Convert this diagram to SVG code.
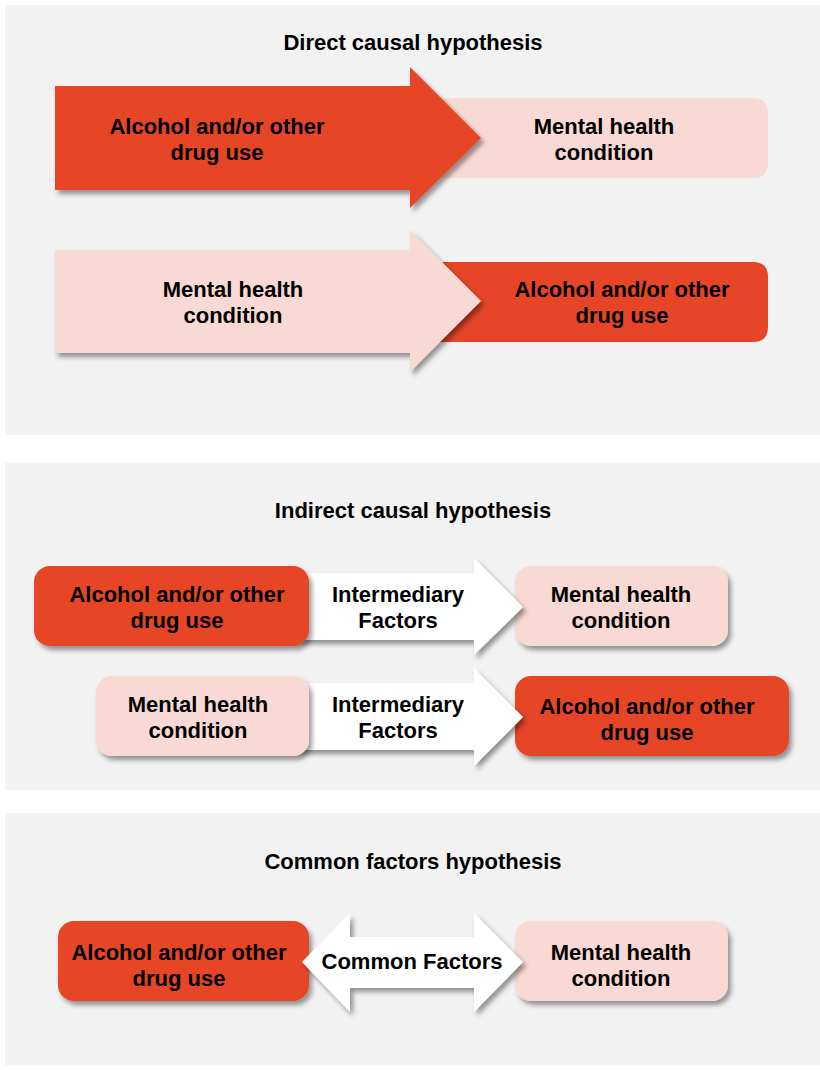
<svg xmlns="http://www.w3.org/2000/svg" width="820" height="1070" viewBox="0 0 820 1070">
<defs>
<filter id="sh" x="-10%" y="-20%" width="130%" height="150%">
<feDropShadow dx="3" dy="4" stdDeviation="2.5" flood-color="#000" flood-opacity="0.4"/>
</filter>
<style>
.panel{fill:#f2f2f2}
.red{fill:#e64527;filter:url(#sh)}
.pink{fill:#f9d9d3;filter:url(#sh)}
.white{fill:#ffffff;filter:url(#sh)}
.flat-pink{fill:#f9d9d3}
.flat-red{fill:#e64527}
text{font-family:"Liberation Sans",Arial,sans-serif;font-weight:bold;font-size:22px;fill:#000;text-anchor:middle}
</style>
</defs>
<rect width="820" height="1070" fill="#ffffff"/>
<rect class="panel" x="5" y="5" width="815" height="430"/>
<rect class="panel" x="5" y="463" width="815" height="327"/>
<rect class="panel" x="5" y="813" width="815" height="252"/>

<text x="413" y="50">Direct causal hypothesis</text>
<text x="413" y="518">Indirect causal hypothesis</text>
<text x="413" y="869">Common factors hypothesis</text>

<!-- Panel 1 row 1 -->
<g id="mh1">
<path class="flat-pink" d="M420,98 H753 Q768,98 768,113 V163 Q768,178 753,178 H420 Z"/>
<text x="604" y="134">Mental health</text>
<text x="604" y="160">condition</text>
</g>
<g id="aod1">
<path class="red" d="M55,86 H410 V67 L481,138 L410,208 V190 H55 Z"/>
<text x="217" y="134">Alcohol and/or other</text>
<text x="217" y="160">drug use</text>
</g>

<!-- Panel 1 row 2 -->
<g id="aod2">
<path class="flat-red" d="M420,262 H753 Q768,262 768,277 V327 Q768,342 753,342 H420 Z"/>
<text x="622" y="297">Alcohol and/or other</text>
<text x="622" y="323">drug use</text>
</g>
<g id="mh2">
<path class="pink" d="M55,250 H410 V230 L481,301 L410,372 V353 H55 Z"/>
<text x="233" y="297">Mental health</text>
<text x="233" y="323">condition</text>
</g>

<!-- Panel 2 right-hand nodes -->
<g id="mh3">
<rect class="pink" x="515" y="566" width="213" height="80" rx="16"/>
<text x="621" y="602">Mental health</text>
<text x="621" y="628">condition</text>
</g>
<g id="aod4">
<rect class="red" x="515" y="676" width="274" height="80" rx="16"/>
<text x="647" y="714">Alcohol and/or other</text>
<text x="647" y="740">drug use</text>
</g>

<g id="connectors">
<g id="inter1">
<path class="white" d="M295,573 H474 V558 L523,607 L474,655 V640 H295 Z"/>
<text x="398" y="602">Intermediary</text>
<text x="398" y="628">Factors</text>
</g>
<g id="inter2">
<path class="white" d="M295,683 H474 V668 L523,717 L474,766 V750 H295 Z"/>
<text x="398" y="712">Intermediary</text>
<text x="398" y="738">Factors</text>
</g>
</g>

<!-- Panel 2 left-hand nodes -->
<g id="aod3">
<rect class="red" x="34" y="566" width="275" height="80" rx="16"/>
<text x="177" y="602">Alcohol and/or other</text>
<text x="177" y="628">drug use</text>
</g>
<g id="mh4">
<rect class="pink" x="96" y="676" width="213" height="80" rx="16"/>
<text x="198" y="712">Mental health</text>
<text x="198" y="738">condition</text>
</g>

<!-- Panel 3 -->
<g id="aod5">
<rect class="red" x="58" y="921" width="251" height="80" rx="16"/>
<text x="179" y="960">Alcohol and/or other</text>
<text x="179" y="986">drug use</text>
</g>
<g id="mh5">
<rect class="pink" x="515" y="921" width="213" height="80" rx="16"/>
<text x="621" y="960">Mental health</text>
<text x="621" y="986">condition</text>
</g>
<g id="common">
<path class="white" d="M302,962 L350,913 V937 H474 V913 L523,962 L474,1012 V988 H350 V1012 Z"/>
<text x="412" y="969">Common Factors</text>
</g>
</svg>
